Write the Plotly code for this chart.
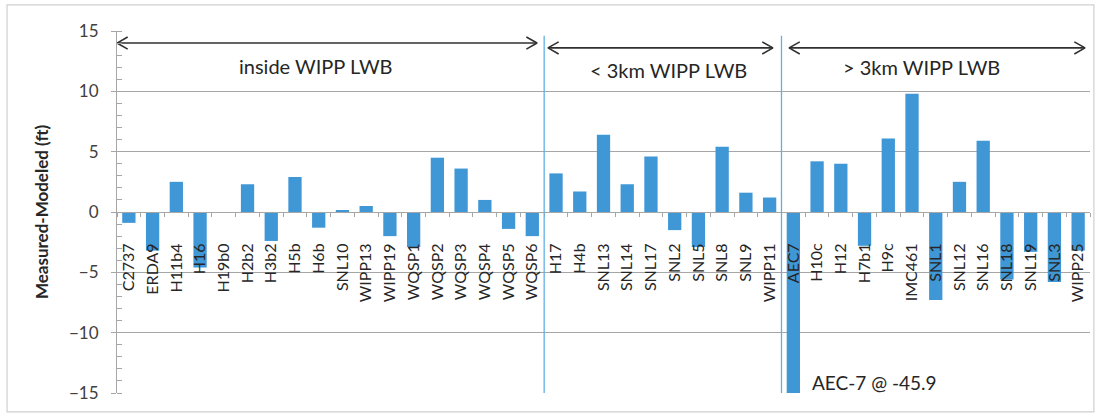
import plotly.graph_objects as go

# ---------------- data ----------------
inside_wells = ["C2737", "ERDA9", "H11b4", "H16", "H19b0", "H2b2", "H3b2", "H5b", "H6b",
                "SNL10", "WIPP13", "WIPP19", "WQSP1", "WQSP2", "WQSP3", "WQSP4", "WQSP5", "WQSP6"]
inside_vals = [-0.9, -3.2, 2.5, -4.6, 0.0, 2.3, -2.4, 2.9, -1.3,
               0.15, 0.5, -2.0, -2.9, 4.5, 3.6, 1.0, -1.4, -2.0]

near_wells = ["H17", "H4b", "SNL13", "SNL14", "SNL17", "SNL2", "SNL5", "SNL8", "SNL9", "WIPP11"]
near_vals = [3.2, 1.7, 6.4, 2.3, 4.6, -1.5, -2.9, 5.4, 1.6, 1.2]

far_wells = ["AEC7", "H10c", "H12", "H7b1", "H9c", "IMC461", "SNL1", "SNL12", "SNL16",
             "SNL18", "SNL19", "SNL3", "WIPP25"]
far_vals = [-45.9, 4.2, 4.0, -2.8, 6.1, 9.8, -7.3, 2.5, 5.9, -5.6, -3.3, -5.8, -3.2]

group_labels = ["inside WIPP LWB", "< 3km WIPP LWB", "> 3km WIPP LWB"]
y_ticks = [-15, -10, -5, 0, 5, 10, 15]
y_title = "Measured-Modeled (ft)"
note_text = "AEC-7 @ -45.9"

# ---------------- build ----------------
wells = inside_wells + near_wells + far_wells
vals = inside_vals + near_vals + far_vals
n = len(wells)
ymin, ymax = y_ticks[0], y_ticks[-1]

BAR = "#3F97D6"
GRID = "#A6A6A6"
SEP = "#62B0E3"
TXT = "#262626"
FONT = "Lato"

fig = go.Figure()
fig.add_trace(go.Bar(x=wells, y=vals, marker=dict(color=BAR, line=dict(width=0)),
                     width=0.56, showlegend=False))

# group boundaries (in category index units)
b1 = len(inside_wells) - 0.5
b2 = len(inside_wells) + len(near_wells) - 0.5
left_edge, right_edge = -0.5, n - 0.5

# double-headed arrows spanning each group
arrow_spans = [(left_edge, b1 - 0.3), (b1 + 0.16, b2 - 0.36), (b2 + 0.32, right_edge - 0.21)]
arrow_levels = [14.0, 13.6, 13.6]
label_x = [7.9, 22.75, 33.4]
label_y = [12.1, 11.8, 12.0]
dx, dy = 0.45, 0.5
for (x0, x1), yv in zip(arrow_spans, arrow_levels):
    xs = [x0 + dx, x0, x0 + dx, None, x0, x1, None, x1 - dx, x1, x1 - dx]
    ys = [yv + dy, yv, yv - dy, None, yv, yv, None, yv + dy, yv, yv - dy]
    fig.add_trace(go.Scatter(x=xs, y=ys, xaxis="x2", yaxis="y", mode="lines",
                             line=dict(color="#303030", width=1.6),
                             hoverinfo="skip", showlegend=False))

annotations = []
for lab, lx, ly in zip(group_labels, label_x, label_y):
    annotations.append(dict(x=lx, y=ly, xref="x2", yref="y", text=lab, showarrow=False,
                            font=dict(family=FONT, size=20, color=TXT),
                            xanchor="center", yanchor="middle"))
annotations.append(dict(x=b2 + 1.2, y=-14.1, xref="x2", yref="y", text=note_text,
                        showarrow=False, font=dict(family=FONT, size=19, color=TXT),
                        xanchor="left", yanchor="middle"))

shapes = []
for b in (b1, b2):
    shapes.append(dict(type="line", xref="x2", yref="y", x0=b, x1=b, y0=ymin, y1=14.6,
                       line=dict(color=SEP, width=1.3), layer="above"))
# outer chart frame
shapes.append(dict(type="rect", xref="paper", yref="paper",
                   x0=-0.113, x1=1.004, y0=-0.052, y1=1.072,
                   line=dict(color="#D0D0D0", width=1.2), layer="below"))

fig.update_layout(
    width=1101, height=416,
    margin=dict(l=117, r=11, t=31, b=23, pad=0, autoexpand=False),
    paper_bgcolor="white", plot_bgcolor="white",
    font=dict(family=FONT, color=TXT),
    bargap=0.44,
    xaxis=dict(type="category", range=[left_edge, right_edge], anchor="free",
               position=(0 - ymin) / (ymax - ymin), automargin=False,
               showline=True, linecolor=GRID, linewidth=1,
               ticks="outside", tickson="boundaries", ticklen=4, tickcolor=GRID,
               tickangle=-90, ticklabelstandoff=24,
               tickfont=dict(family=FONT, size=16, color=TXT),
               showgrid=False, zeroline=False, fixedrange=True),
    xaxis2=dict(overlaying="x", range=[left_edge, right_edge], visible=False,
                anchor="y", fixedrange=True),
    yaxis=dict(range=[ymin, ymax], tickvals=y_ticks, showgrid=True, gridcolor=GRID,
               gridwidth=1, zeroline=False, showline=True, linecolor=GRID, automargin=False,
               ticks="outside", ticklen=5, tickcolor=GRID, ticklabelstandoff=9,
               minor=dict(dtick=1, ticks="inside", ticklen=5, tickcolor=GRID, showgrid=False),
               tickfont=dict(family=FONT, size=17, color="#404040"),
               title=dict(text=y_title, standoff=16,
                          font=dict(family=FONT, size=17, color=TXT, weight="bold"))),
    annotations=annotations, shapes=shapes,
)

fig.write_html("out.html", config={"displayModeBar": False},
               post_script="document.body.style.margin='0';")
